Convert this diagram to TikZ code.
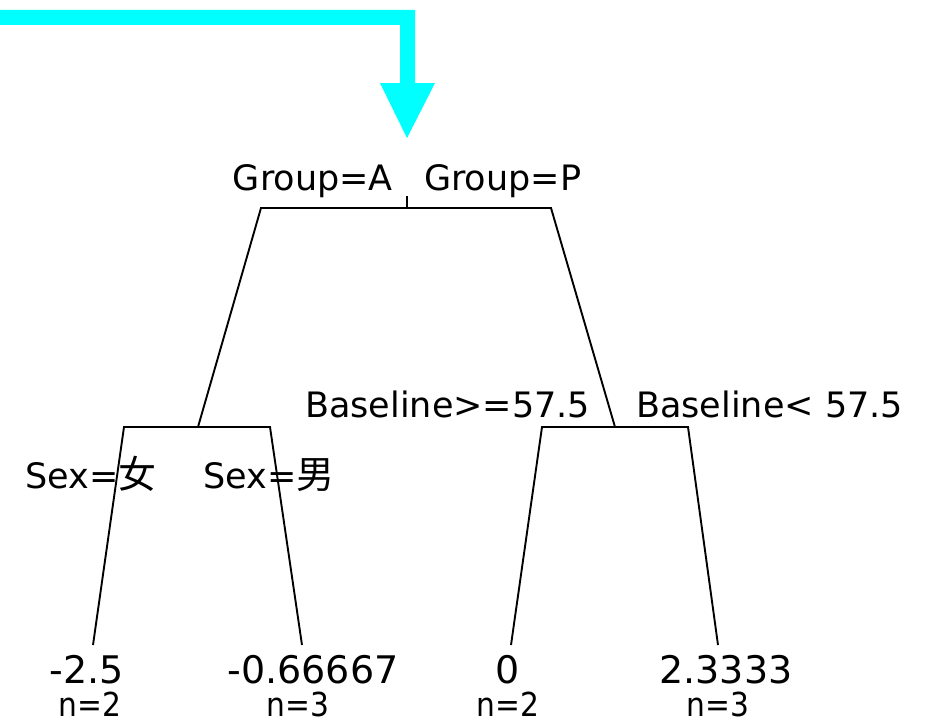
\documentclass[tikz,border=0pt]{standalone}
\usepackage{fontspec}
\usepackage{graphicx}
\setmainfont{DejaVu Sans}
\newfontfamily\cjk{Noto Sans CJK SC}
\definecolor{arrowcyan}{RGB}{0,255,255}
\newcommand{\nlab}[1]{\scalebox{0.9}[1]{#1}}
\tikzset{
  branch/.style={draw=black, line width=1.9pt},
  splitlabel/.style={inner sep=0pt, font=\fontsize{35}{40}\selectfont},
  leafval/.style={inner sep=0pt, anchor=base, font=\fontsize{38}{42}\selectfont},
  leafn/.style={inner sep=0pt, anchor=base, font=\fontsize{33}{37}\selectfont},
}
\begin{document}
\begin{tikzpicture}[x=1pt,y=-1pt]
\useasboundingbox[fill=white] (0,0) rectangle (931,725);
% cyan arrow
\fill[arrowcyan] (0,10) -- (415,10) -- (415,83) -- (435,83) -- (407,138) -- (380,83) -- (400,83) -- (400,25) -- (0,25) -- cycle;
% tree coordinates
\coordinate (rtop) at (407,196);
\coordinate (rmid) at (407,208);
\coordinate (rl) at (261,208);
\coordinate (rr) at (551,208);
\coordinate (lj) at (198,427);
\coordinate (ll) at (124,427);
\coordinate (lr) at (270,427);
\coordinate (rj) at (615,427);
\coordinate (rrl) at (542,427);
\coordinate (rrr) at (688,427);
\coordinate (leaf1) at (93,645);
\coordinate (leaf2) at (302,645);
\coordinate (leaf3) at (511,645);
\coordinate (leaf4) at (718,645);
% tree lines
\draw[branch] (rtop) -- (rmid);
\draw[branch] (lj) -- (rl) -- (rr) -- (rj);
\draw[branch] (leaf1) -- (ll) -- (lr) -- (leaf2);
\draw[branch] (leaf3) -- (rrl) -- (rrr) -- (leaf4);
% split labels
\node[splitlabel, anchor=base east] (ga) at (393,190) {Group=A};
\node[splitlabel, anchor=base west] (gp) at (424,190) {Group=P};
\node[splitlabel, anchor=base west] (bge) at (305,417) {Baseline>=57.5};
\node[splitlabel, anchor=base west] (blt) at (636,417) {Baseline< 57.5};
\node[splitlabel, anchor=base west] (sf) at (25,488) {Sex={\cjk\fontsize{38}{42}\selectfont 女}};
\node[splitlabel, anchor=base west] (sm) at (203,488) {Sex={\cjk\fontsize{38}{42}\selectfont 男}};
% leaves
\node[leafval] (v1) at (87,683) {-2.5};
\node[leafn] (n1) at (90,716) {\nlab{n=2}};
\node[leafval] (v2) at (313,683) {-0.66667};
\node[leafn] (n2) at (298,716) {\nlab{n=3}};
\node[leafval] (v3) at (508,683) {0};
\node[leafn] (n3) at (508,716) {\nlab{n=2}};
\node[leafval] (v4) at (726,683) {2.3333};
\node[leafn] (n4) at (718,716) {\nlab{n=3}};
\end{tikzpicture}
\end{document}
